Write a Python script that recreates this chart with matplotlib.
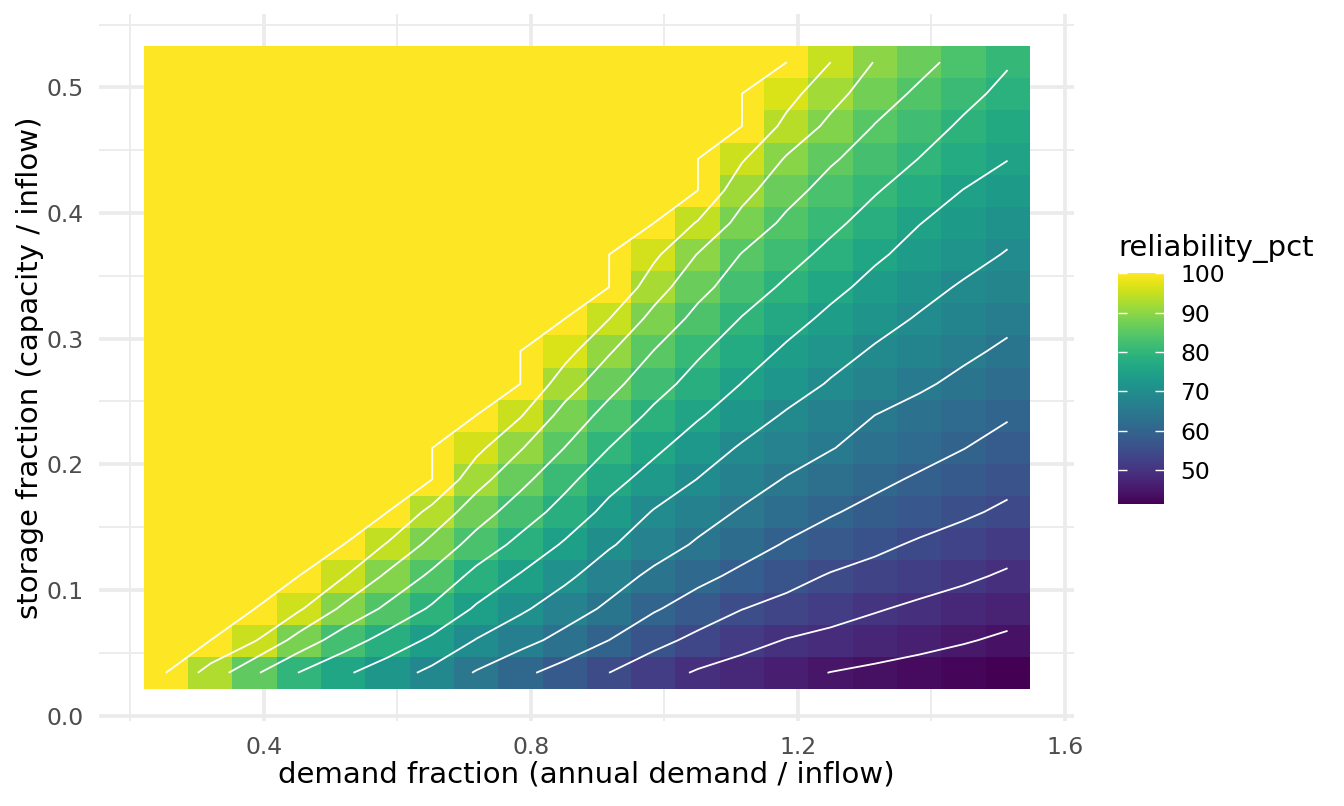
import numpy as np
import matplotlib
matplotlib.use("Agg")
import matplotlib.pyplot as plt

# ---------------- data ----------------
demand = [0.253, 0.320, 0.386, 0.452, 0.519, 0.585, 0.652, 0.718, 0.784, 0.851,
          0.917, 0.984, 1.050, 1.116, 1.183, 1.249, 1.315, 1.382, 1.448, 1.514]
storage = [0.034, 0.060, 0.085, 0.111, 0.136, 0.162, 0.188, 0.213, 0.239, 0.264,
           0.290, 0.316, 0.341, 0.367, 0.392, 0.418, 0.443, 0.469, 0.495, 0.520]

# reliability_pct, one row per storage value (bottom to top), one column per demand value
reliability = [
    [100, 93.0, 85.7, 79.9, 75.8, 72.3, 68.8, 64.6, 61.1, 58.0, 55.0, 52.0, 49.5, 47.9, 46.3, 44.9, 44.0, 43.1, 42.2, 41.3],
    [100, 100, 95.4, 88.1, 82.5, 78.1, 74.1, 69.8, 66.7, 63.4, 60.0, 56.5, 53.8, 51.7, 49.8, 48.7, 47.6, 46.5, 45.4, 44.2],
    [100, 100, 100, 95.7, 89.0, 84.0, 79.3, 74.4, 70.8, 67.4, 64.1, 60.5, 57.7, 55.1, 53.5, 51.9, 50.4, 49.1, 48.0, 46.9],
    [100, 100, 100, 100, 95.3, 89.1, 84.0, 78.5, 74.6, 71.0, 67.3, 63.9, 61.3, 58.9, 56.6, 54.6, 53.4, 52.1, 50.8, 49.4],
    [100, 100, 100, 100, 100, 94.6, 88.5, 83.1, 78.6, 74.4, 70.5, 67.3, 64.4, 62.0, 59.6, 57.8, 56.0, 54.4, 53.1, 51.8],
    [100, 100, 100, 100, 100, 100, 93.5, 87.3, 82.6, 78.1, 73.6, 69.7, 67.1, 64.5, 62.5, 60.4, 58.7, 57.2, 55.7, 54.2],
    [100, 100, 100, 100, 100, 100, 100, 91.9, 86.4, 81.4, 76.7, 73.1, 69.9, 67.2, 64.7, 62.9, 61.1, 59.4, 57.9, 56.3],
    [100, 100, 100, 100, 100, 100, 100, 96.3, 90.4, 84.9, 80.0, 76.0, 72.5, 69.5, 67.3, 65.2, 63.4, 61.8, 60.1, 58.4],
    [100, 100, 100, 100, 100, 100, 100, 100, 95.4, 88.2, 83.3, 79.0, 75.5, 72.4, 69.5, 67.2, 65.0, 63.4, 61.9, 60.4],
    [100, 100, 100, 100, 100, 100, 100, 100, 100, 92.4, 86.6, 81.9, 78.2, 74.9, 72.2, 69.6, 67.6, 65.7, 63.9, 62.3],
    [100, 100, 100, 100, 100, 100, 100, 100, 100, 96.7, 90.5, 84.9, 80.7, 77.3, 74.3, 71.8, 69.5, 67.7, 65.9, 64.2],
    [100, 100, 100, 100, 100, 100, 100, 100, 100, 100, 95.1, 88.5, 83.6, 79.8, 76.7, 74.0, 71.7, 69.6, 67.8, 66.1],
    [100, 100, 100, 100, 100, 100, 100, 100, 100, 100, 100, 92.3, 86.5, 82.5, 79.2, 76.2, 73.7, 71.5, 69.5, 67.9],
    [100, 100, 100, 100, 100, 100, 100, 100, 100, 100, 100, 96.0, 89.8, 84.8, 81.8, 78.7, 75.7, 73.5, 71.6, 69.7],
    [100, 100, 100, 100, 100, 100, 100, 100, 100, 100, 100, 100, 94.6, 88.3, 84.0, 81.1, 78.1, 75.1, 73.3, 71.5],
    [100, 100, 100, 100, 100, 100, 100, 100, 100, 100, 100, 100, 100, 91.7, 86.7, 83.2, 80.4, 77.6, 74.9, 73.3],
    [100, 100, 100, 100, 100, 100, 100, 100, 100, 100, 100, 100, 100, 95.5, 89.5, 85.6, 82.7, 79.9, 77.5, 75.1],
    [100, 100, 100, 100, 100, 100, 100, 100, 100, 100, 100, 100, 100, 100, 93.7, 88.8, 84.8, 82.0, 79.3, 76.9],
    [100, 100, 100, 100, 100, 100, 100, 100, 100, 100, 100, 100, 100, 100, 96.7, 91.8, 87.4, 84.1, 81.3, 78.8],
    [100, 100, 100, 100, 100, 100, 100, 100, 100, 100, 100, 100, 100, 100, 100, 95.0, 89.8, 86.5, 83.3, 80.4],
]

contour_levels = [45, 50, 55, 60, 65, 70, 75, 80, 85, 90, 95, 100]
fill_limits = [41.3, 100]
legend_breaks = [50, 60, 70, 80, 90, 100]
x_breaks = [0.4, 0.8, 1.2, 1.6]
x_minor = [0.2, 0.6, 1.0, 1.4]
y_breaks = [0.0, 0.1, 0.2, 0.3, 0.4, 0.5]
y_minor = [0.05, 0.15, 0.25, 0.35, 0.45, 0.55]

x_title = "demand fraction (annual demand / inflow)"
y_title = "storage fraction (capacity / inflow)"
legend_title = "reliability_pct"

# ---------------- figure ----------------
W, H = 1344, 806
fig = plt.figure(figsize=(W / 100, H / 100), dpi=100)
fig.patch.set_facecolor("white")

ax = fig.add_axes([99.4 / W, (H - 721) / H, (1074 - 99.4) / W, (721 - 14) / H])

X = np.array(demand)
Y = np.array(storage)
Z = np.array(reliability, dtype=float)

dx = np.diff(X).mean()
dy = np.diff(Y).mean()
x_lo, x_hi = X[0] - dx / 2, X[-1] + dx / 2
y_lo, y_hi = Y[0] - dy / 2, Y[-1] + dy / 2

im = ax.imshow(Z, origin="lower", extent=[x_lo, x_hi, y_lo, y_hi], aspect="auto",
               cmap="viridis", vmin=fill_limits[0], vmax=fill_limits[1],
               interpolation="nearest", zorder=2)

# level 100 is a plateau of exact 100 values: trace it just below 100
draw_levels = [lv if lv < 100 else lv - 0.01 for lv in contour_levels]
ax.contour(X, Y, Z, levels=draw_levels, colors="white", linewidths=1.3, zorder=3)

ex = 0.05 * (x_hi - x_lo)
ey = 0.05 * (y_hi - y_lo)
ax.set_xlim(x_lo - ex, x_hi + ex)
ax.set_ylim(y_lo - ey, y_hi + ey)

ax.set_xticks(x_breaks)
ax.set_xticklabels([f"{v:.1f}" for v in x_breaks])
ax.set_xticks(x_minor, minor=True)
ax.set_yticks(y_breaks)
ax.set_yticklabels([f"{v:.1f}" for v in y_breaks])
ax.set_yticks(y_minor, minor=True)

ax.grid(which="major", color="#EBEBEB", linewidth=2.7, zorder=0)
ax.grid(which="minor", color="#EBEBEB", linewidth=1.35, zorder=0)
ax.set_axisbelow(True)
for s in ax.spines.values():
    s.set_visible(False)
ax.tick_params(which="both", length=0, labelsize=16.9, labelcolor="#4D4D4D")
ax.tick_params(axis="x", pad=10.5)
ax.tick_params(axis="y", pad=11.5)

fig.text(586.7 / W, (H - 783) / H, x_title, ha="center", va="baseline",
         fontsize=21, color="black")
fig.text(30 / W, (H - 367.5) / H, y_title, ha="center", va="center",
         rotation=90, fontsize=21, color="black")

# ---------------- colourbar legend ----------------
cax = fig.add_axes([1118.3 / W, (H - 504.3) / H, 46 / W, 231 / H])
cb = fig.colorbar(im, cax=cax, ticks=legend_breaks)
cb.outline.set_visible(False)
cax.yaxis.set_ticks_position("both")
cax.tick_params(direction="in", length=6.5, width=1.0, color="white",
                labelsize=16.9, labelcolor="black", pad=11.5,
                left=True, right=True, labelleft=False, labelright=True)
cax.set_yticklabels([str(v) for v in legend_breaks])

fig.text(1118.3 / W, (H - 256) / H, legend_title, ha="left", va="baseline",
         fontsize=21, color="black")

fig.savefig("out.png", dpi=100, facecolor="white")
